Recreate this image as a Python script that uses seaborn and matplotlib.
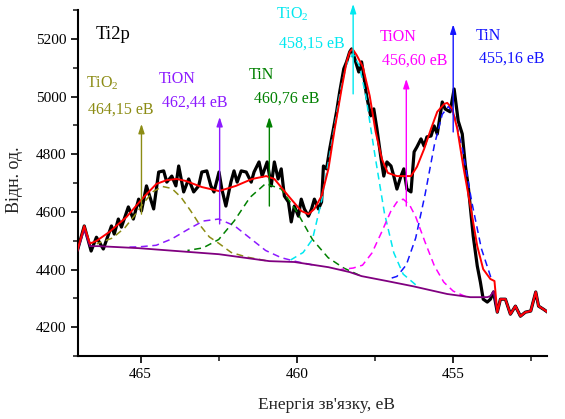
import matplotlib
matplotlib.use("Agg")
import matplotlib.pyplot as plt
import seaborn as sns
from matplotlib.ticker import MultipleLocator

# ---- measured spectrum (black) ----
bx = [467.06, 466.80, 466.58, 466.41, 466.19, 465.93, 465.84, 465.71, 465.61, 465.39,
      465.23, 465.06, 464.97, 464.81, 464.58, 464.42, 464.26, 464.16, 464.00, 463.87,
      463.78, 463.62, 463.46, 463.30, 463.14, 463.04, 462.88, 462.75, 462.65, 462.49,
      462.40, 462.27, 462.11, 462.01, 461.91, 461.78, 461.62, 461.46, 461.37, 461.21,
      461.11, 460.95, 460.82, 460.72, 460.60, 460.50, 460.40, 460.27, 460.18, 460.08,
      459.95, 459.86, 459.76, 459.63, 459.53, 459.44, 459.31, 459.21, 459.15, 459.05,
      458.95, 458.83, 458.73, 458.63, 458.50, 458.41, 458.31, 458.25, 458.15, 458.02,
      457.93, 457.86, 457.77, 457.64, 457.54, 457.44, 457.32, 457.22, 457.12, 456.99,
      456.90, 456.80, 456.67, 456.58, 456.48, 456.35, 456.25, 456.16, 456.03, 455.93,
      455.84, 455.71, 455.61, 455.51, 455.35, 455.26, 455.10, 454.97, 454.84, 454.71,
      454.61, 454.52, 454.36, 454.23, 454.13, 454.04, 453.91, 453.81, 453.71, 453.59,
      453.49, 453.33, 453.17, 453.01, 452.85, 452.69, 452.52, 452.36, 452.27, 452.11, 451.98]
by = [4450, 4551, 4464, 4512, 4471, 4551, 4523, 4575, 4547, 4617,
      4575, 4644, 4603, 4690, 4610, 4738, 4742, 4703, 4724, 4690,
      4759, 4669, 4714, 4669, 4690, 4738, 4742, 4690, 4669, 4738,
      4679, 4620, 4703, 4742, 4703, 4742, 4738, 4703, 4738, 4773,
      4724, 4773, 4690, 4773, 4714, 4749, 4655, 4634, 4565, 4620,
      4585, 4644, 4610, 4585, 4610, 4644, 4610, 4634, 4759, 4749,
      4818, 4888, 4947, 5016, 5096, 5120, 5155, 5165, 5131, 5085,
      5120, 5072, 5002, 4933, 4957, 4888, 4794, 4724, 4773, 4759,
      4724, 4679, 4724, 4749, 4679, 4669, 4808, 4825, 4853, 4828,
      4860, 4863, 4898, 4870, 4981, 4957, 4947, 5026, 4915, 4870,
      4759, 4690, 4516, 4412, 4356, 4297, 4287, 4297, 4322, 4252,
      4297, 4297, 4245, 4273, 4238, 4252, 4256, 4322, 4273, 4262, 4252]

# ---- fit envelope (red) ----
rx = [467.06, 466.80, 466.62, 466.41, 466.00, 465.45, 464.90, 464.49, 464.16, 463.84,
      463.55, 463.04, 462.49, 461.95, 461.43, 460.98, 460.72, 460.27, 459.86, 459.63,
      459.44, 459.21, 458.99, 458.79, 458.57, 458.41, 458.31, 458.22, 458.09, 457.89,
      457.67, 457.48, 457.28, 457.09, 456.80, 456.35, 456.16, 455.93, 455.71, 455.51,
      455.29, 455.19, 455.03, 454.87, 454.68, 454.45, 454.23, 454.04, 453.81, 453.68,
      453.59, 453.49, 453.33, 453.17, 453.01, 452.85, 452.69, 452.52, 452.36, 452.27,
      452.11, 451.98]
ry = [4450, 4551, 4490, 4499, 4530, 4582, 4651, 4697, 4710, 4714,
      4707, 4686, 4672, 4690, 4714, 4724, 4714, 4655, 4603, 4592,
      4610, 4655, 4749, 4888, 5026, 5120, 5155, 5165, 5144, 5103,
      5002, 4877, 4783, 4735, 4724, 4724, 4756, 4818, 4888, 4947,
      4974, 4978, 4957, 4888, 4759, 4620, 4481, 4401, 4367, 4360,
      4252, 4297, 4297, 4245, 4273, 4238, 4252, 4256, 4322, 4273,
      4262, 4252]

# ---- background (purple) ----
gx = [467.06, 466.80, 466.62, 466.35, 465.06, 463.84, 462.49, 460.88, 460.08, 458.99,
      458.31, 457.93, 457.12, 456.29, 455.19, 454.45, 453.91, 453.81, 453.71,
      453.59, 453.49, 453.33, 453.17, 453.01, 452.85, 452.69, 452.52, 452.36, 452.27,
      452.11, 451.98]
gy = [4450, 4540, 4481, 4481, 4474, 4464, 4453, 4429, 4426, 4408,
      4391, 4377, 4360, 4342, 4315, 4304, 4304, 4308, 4325,
      4252, 4297, 4297, 4245, 4273, 4238, 4252, 4256, 4322, 4273,
      4262, 4252]

# ---- components (dashed) ----
ox = [466.4, 465.9, 465.5, 465.2, 464.9, 464.6, 464.3, 464.0, 463.7, 463.4, 463.1, 462.8, 462.5, 462.1, 461.6, 461.0]
oy = [4489, 4509, 4545, 4586, 4631, 4670, 4688, 4681, 4650, 4604, 4554, 4513, 4491, 4459, 4443, 4431]
vx = [465.5, 465.0, 464.5, 464.0, 463.5, 463.0, 462.5, 462.0, 461.5, 461.0, 460.5, 460.0, 459.5]
vy = [4477, 4479, 4484, 4506, 4538, 4568, 4575, 4552, 4509, 4466, 4441, 4427, 4416]
nx = [463.5, 463.0, 462.5, 462.0, 461.5, 461.0, 460.5, 460.0, 459.5, 459.0, 458.5, 458.0]
ny = [4466, 4475, 4504, 4569, 4650, 4698, 4679, 4600, 4504, 4441, 4405, 4380]
cx = [460.2, 459.8, 459.5, 459.2, 458.9, 458.6, 458.4, 458.2, 458.0, 457.8, 457.5, 457.2, 456.9, 456.6, 456.2]
cy = [4433, 4459, 4505, 4643, 4830, 5023, 5116, 5148, 5106, 5005, 4794, 4596, 4458, 4384, 4347]
mx = [458.6, 458.2, 457.9, 457.6, 457.3, 457.0, 456.8, 456.6, 456.4, 456.2, 455.9, 455.6, 455.3, 455.0, 454.6]
my = [4400, 4405, 4415, 4457, 4527, 4601, 4634, 4644, 4625, 4583, 4495, 4412, 4356, 4325, 4306]
ux = [457.1, 456.8, 456.5, 456.2, 455.9, 455.6, 455.35, 455.15, 454.95, 454.7, 454.4, 454.1, 453.8]
uy = [4366, 4376, 4416, 4509, 4660, 4833, 4938, 4966, 4929, 4815, 4631, 4473, 4374]

# ---- annotation arrows: position, bottom, top ----
arrow_x = [464.97, 462.47, 460.88, 458.20, 456.50, 455.00]
arrow_lo = [4592, 4558, 4620, 5009, 4620, 4877]
arrow_hi = [4905, 4929, 4929, 5321, 5061, 5250]
comp_names = ["TiO$_\\mathrm{2}$", "TiON", "TiN", "TiO$_\\mathrm{2}$", "TiON", "TiN"]
comp_energy = ["464,15 eB", "462,44 eB", "460,76 eB", "458,15 eB", "456,60 eB", "455,16 eB"]
comp_colors = ["#8c8c14", "#8c1aff", "#008000", "#00e8f0", "#ff00ff", "#1414ff"]
name_pos = [(466.74, 5047), (464.42, 5061), (461.53, 5075), (460.66, 5287), (457.35, 5207), (454.29, 5210)]
energy_pos = [(466.67, 4953), (464.32, 4978), (461.37, 4992), (460.56, 5183), (457.28, 5124), (454.16, 5131)]

sns.set_style("ticks")
plt.rcParams['font.family'] = ['Liberation Serif', 'DejaVu Serif']
plt.rcParams['mathtext.fontset'] = 'custom'
plt.rcParams['mathtext.rm'] = 'Liberation Serif'

fig = plt.figure(figsize=(5.65, 4.19), dpi=100)
ax = fig.add_axes([78/565, 1-356/419, 469/565, 346/419])

dash = (0, (4.5, 3))
comps = [(ox, oy), (vx, vy), (nx, ny), (cx, cy), (mx, my), (ux, uy)]

sns.lineplot(x=bx, y=by, ax=ax, color="black", lw=2.3, estimator=None, zorder=2)
for (xs, ys), c in zip(comps, comp_colors):
    sns.lineplot(x=xs, y=ys, ax=ax, color=c, lw=1.1, linestyle=dash, estimator=None, zorder=3)
sns.lineplot(x=gx, y=gy, ax=ax, color="#800080", lw=1.3, estimator=None, zorder=4)
sns.lineplot(x=rx, y=ry, ax=ax, color="#ff0000", lw=1.4, estimator=None, zorder=5)

for xa, lo, hi, c in zip(arrow_x, arrow_lo, arrow_hi, comp_colors):
    ax.annotate("", xy=(xa, hi), xytext=(xa, lo),
                arrowprops=dict(arrowstyle="-|>,head_length=0.55,head_width=0.18",
                                color=c, lw=1.0, shrinkA=0, shrinkB=0),
                annotation_clip=False, zorder=6)

for name, en, c, npos, epos in zip(comp_names, comp_energy, comp_colors, name_pos, energy_pos):
    ax.text(npos[0], npos[1], name, color=c, fontsize=11.5, ha="left", va="center")
    ax.text(epos[0], epos[1], en, color=c, fontsize=11.5, ha="left", va="center")

ax.text(466.45, 5214, "Ti2p", color="black", fontsize=13.5, ha="left", va="center")

ax.set_xlim(467.0, 452.0)
ax.set_ylim(4100, 5300)
ax.xaxis.set_major_locator(MultipleLocator(5))
ax.xaxis.set_minor_locator(MultipleLocator(2.5))
ax.yaxis.set_major_locator(MultipleLocator(200))
ax.yaxis.set_minor_locator(MultipleLocator(100))
ax.tick_params(which="major", direction="out", length=5, width=1.2, labelsize=11, colors="black")
ax.tick_params(which="minor", direction="out", length=3.5, width=1.2)
for s in ["left", "bottom"]:
    ax.spines[s].set_linewidth(1.5)
    ax.spines[s].set_color("black")
sns.despine(ax=ax)

ax.set_xlabel("Енергія зв'язку, eВ", fontsize=12.5)
ax.set_ylabel("Відн. од.", fontsize=13)
ax.xaxis.set_label_coords(0.529, -0.118)
ax.yaxis.set_label_coords(-0.118, 0.51)

fig.savefig("out.png", dpi=100)
